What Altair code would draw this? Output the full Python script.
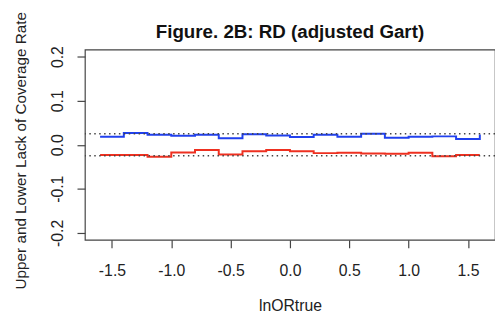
import altair as alt
import pandas as pd

# Data
x_vals = [-1.6, -1.4, -1.2, -1.0, -0.8, -0.6, -0.4, -0.2, 0.0, 0.2, 0.4, 0.6, 0.8, 1.0, 1.2, 1.4, 1.6]
upper = [0.018, 0.0265, 0.0227, 0.0205, 0.0227, 0.015, 0.024, 0.021, 0.0174, 0.0227,
         0.018, 0.025, 0.016, 0.018, 0.019, 0.013, 0.023]
lower = [-0.0235, -0.0235, -0.027, -0.0174, -0.012, -0.022, -0.015, -0.012, -0.015, -0.019,
         -0.018, -0.0197, -0.0205, -0.018, -0.026, -0.0235, -0.0235]
ref_levels = [0.025, -0.025]
x_ticks = [-1.5, -1.0, -0.5, 0.0, 0.5, 1.0, 1.5]
y_ticks = [-0.2, -0.1, 0.0, 0.1, 0.2]

FONT = "Liberation Sans"

df = pd.DataFrame({
    "x": x_vals * 2,
    "y": upper + lower,
    "series": ["upper"] * len(x_vals) + ["lower"] * len(x_vals),
})
ref_df = pd.DataFrame({"y": ref_levels})

lab_expr = "replace(format(datum.value, '.1f'), '\u2212', '-')"

xscale = alt.Scale(domain=[-1.728, 1.728], nice=False, zero=False)
yscale = alt.Scale(domain=[-0.216, 0.216], nice=False, zero=False)

xaxis = alt.Axis(values=x_ticks, labelExpr=lab_expr, title="lnORtrue",
                 labelPadding=15, titleY=72, titleBaseline="alphabetic")
yaxis = alt.Axis(values=y_ticks, labelExpr=lab_expr,
                 title="Upper and Lower Lack of Coverage Rate",
                 labelAngle=-90, labelAlign="center", labelBaseline="alphabetic",
                 labelPadding=15, titleAngle=-90, titleX=-60, titleY=102,
                 titleAlign="center", titleBaseline="alphabetic", titleFontSize=15.5)

lines = alt.Chart(df).mark_line(interpolate="step-after", strokeWidth=2).encode(
    x=alt.X("x:Q", scale=xscale, axis=xaxis),
    y=alt.Y("y:Q", scale=yscale, axis=yaxis),
    color=alt.Color("series:N", scale=alt.Scale(domain=["upper", "lower"],
                                                range=["#2040ee", "#ee3020"]),
                    legend=None),
    detail="series:N",
)

refs = alt.Chart(ref_df).mark_rule(color="#444", strokeWidth=1.4, strokeDash=[1.5, 3.5]).encode(
    y=alt.Y("y:Q", scale=yscale),
)

chart = alt.layer(lines, refs).properties(
    width=416,
    height=193,
    title=alt.TitleParams("Figure. 2B: RD (adjusted Gart)", fontSize=19, fontWeight="bold",
                          font=FONT, anchor="middle", baseline="alphabetic", offset=-46,
                          color="#111"),
    autosize=alt.AutoSizeParams(type="none"),
    padding={"left": 78, "top": 40, "right": 0, "bottom": 75},
).configure_view(
    stroke="#444", strokeWidth=1.2
).configure_axis(
    domain=False, grid=False, tickSize=8, tickColor="#444", tickWidth=1.2,
    labelFont=FONT, labelFontSize=16, labelColor="#222",
    titleFont=FONT, titleFontSize=16, titleFontWeight="normal", titleColor="#222",
)

chart.save("out.html", embed_options={"renderer": "svg", "actions": False})
